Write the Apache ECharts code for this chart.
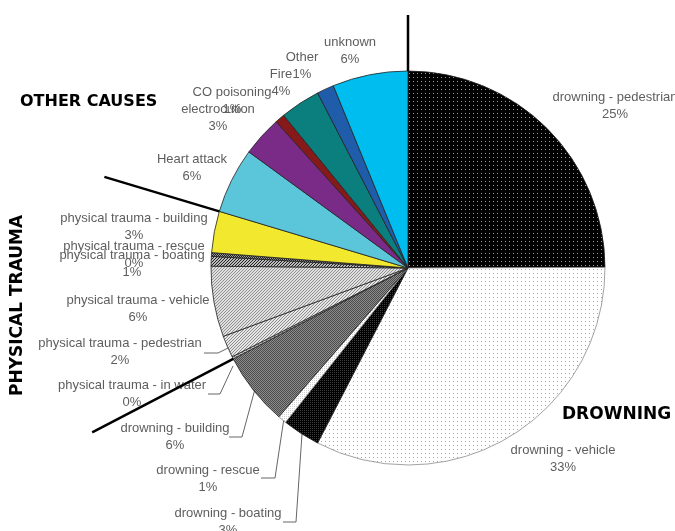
<!DOCTYPE html>
<html>
<head>
<meta charset="utf-8">
<script src="https://cdn.jsdelivr.net/npm/echarts@6/dist/echarts.min.js"></script>
<style>
  html, body { margin: 0; padding: 0; background: #fff; }
  #main { width: 675px; height: 531px; }
</style>
</head>
<body>
<div id="main"></div>
<script>
// slice names, clockwise from 12 o'clock
var causes = [
  'drowning - pedestrian', 'drowning - vehicle', 'drowning - boating', 'drowning - rescue',
  'drowning - building', 'physical trauma - in water', 'physical trauma - pedestrian',
  'physical trauma - vehicle', 'physical trauma - boating', 'physical trauma - rescue',
  'physical trauma - building', 'Heart attack', 'electrocution', 'CO poisoning',
  'Fire', 'Other', 'unknown'
];
// share of deaths (%)
var shares = [25.0, 32.7, 3.1, 0.7, 6.0, 0.2, 1.8, 5.8, 0.8, 0.3, 3.4, 5.4, 3.3, 0.8, 3.3, 1.4, 6.2];
// percentages as printed on the chart
var pctText = ['25%', '33%', '3%', '1%', '6%', '0%', '2%', '6%', '1%', '0%', '3%', '6%', '3%', '1%', '4%', '1%', '6%'];
var groupNames = ['OTHER CAUSES', 'PHYSICAL TRAUMA', 'DROWNING'];

var CX = 408, CY = 268, R = 197;

// little tiled textures like the old excel fills
function pattern(w, h, bg, dots) {
  var c = document.createElement('canvas');
  c.width = w; c.height = h;
  var g = c.getContext('2d');
  g.fillStyle = bg;
  g.fillRect(0, 0, w, h);
  dots.forEach(function (d) {
    g.fillStyle = d[2];
    g.fillRect(d[0], d[1], d[3] || 1, d[4] || 1);
  });
  return { image: c, repeat: 'repeat' };
}
function hatch(bg, fg, step) {
  var d = [];
  for (var i = 0; i < step; i++) d.push([i, step - 1 - i, fg]);
  return pattern(step, step, bg, d);
}

var fills = [
  pattern(4, 4, '#000', [[1, 1, '#a0a0a0']]),
  pattern(4, 4, '#fff', [[1, 1, '#a8a8a8']]),
  pattern(2, 2, '#000', [[0, 0, '#3a3a3a']]),
  pattern(2, 2, '#fff', [[0, 0, '#cfcfcf']]),
  pattern(2, 2, '#8c8c8c', [[0, 0, '#4c4c4c'], [1, 1, '#4c4c4c']]),
  pattern(2, 2, '#bbb', [[0, 0, '#666']]),
  hatch('#e6e6e6', '#8c8c8c', 3),
  hatch('#e0e0e0', '#909090', 3),
  hatch('#bbbbbb', '#222222', 3),
  hatch('#999', '#222', 2),
  '#f2e82e', '#5bc6d9', '#7a2b88', '#861a1a', '#0b7f7d', '#1f5dab', '#00bdf0'
];

// label anchors (text centre) and leader line points
var labelAt = [
  [615, 106], [563, 459], [228, 522], [208, 479], [175, 437], [132, 394], [120, 352],
  [138, 309], [132, 264], [134, 255], [134, 227], [192, 168], [218, 118], [232, 101],
  [281, 83], [302, 66], [350, 51]
];
var leaders = {
  2: [[283, 522], [296, 522], [302, 434]],
  3: [[261, 478], [275, 478], [284, 418]],
  4: [[229, 437], [242, 437], [255, 389]],
  5: [[208, 394], [220, 394], [233, 366]],
  6: [[204, 353], [218, 353], [230, 347]]
};

var total = shares.reduce(function (a, b) { return a + b; }, 0);
function boundaryAngle(afterIdx) {
  var s = 0;
  for (var i = 0; i <= afterIdx; i++) s += shares[i];
  return s / total * 2 * Math.PI;
}
function radialLine(theta, r0, r1) {
  return {
    type: 'line',
    shape: {
      x1: CX + r0 * Math.sin(theta), y1: CY - r0 * Math.cos(theta),
      x2: CX + r1 * Math.sin(theta), y2: CY - r1 * Math.cos(theta)
    },
    style: { stroke: '#000', lineWidth: 2.5 },
    z: 10
  };
}

var chart = echarts.init(document.getElementById('main'));
chart.setOption({
  animation: false,
  backgroundColor: '#fff',
  series: [{
    type: 'pie',
    center: [CX, CY],
    radius: R,
    startAngle: 90,
    clockwise: true,
    avoidLabelOverlap: false,
    data: causes.map(function (n, i) {
      return {
        name: n,
        value: shares[i],
        itemStyle: {
          color: fills[i],
          borderColor: i === 1 || i === 3 ? '#8a8a8a' : '#222',
          borderWidth: 0.8
        },
        labelLine: { show: !!leaders[i] }
      };
    }),
    label: {
      show: true,
      position: 'outside',
      formatter: function (p) { return p.name + '\n' + pctText[p.dataIndex]; },
      fontFamily: 'Liberation Sans',
      fontSize: 13,
      lineHeight: 17,
      color: '#5e5e5e',
      align: 'center'
    },
    labelLine: {
      show: false,
      lineStyle: { color: '#666', width: 1 }
    },
    labelLayout: function (p) {
      var a = labelAt[p.dataIndex];
      var o = { x: a[0], y: a[1], align: 'center', verticalAlign: 'middle' };
      if (leaders[p.dataIndex]) o.labelLinePoints = leaders[p.dataIndex];
      return o;
    }
  }],
  graphic: [
    radialLine(0, R, 253),
    radialLine(boundaryAngle(10), R, 317),
    radialLine(boundaryAngle(4), R, 356),
    {
      type: 'text', left: 20, top: 94,
      style: { text: groupNames[0], font: 'bold 16px "DejaVu Sans"', fill: '#000' }
    },
    {
      type: 'text', x: 9, y: 396, rotation: Math.PI / 2,
      style: { text: groupNames[1], font: 'bold 17px "DejaVu Sans"', fill: '#000' }
    },
    {
      type: 'text', left: 562, top: 406,
      style: { text: groupNames[2], font: 'bold 17px "DejaVu Sans"', fill: '#000' }
    }
  ]
});
</script>
</body>
</html>
